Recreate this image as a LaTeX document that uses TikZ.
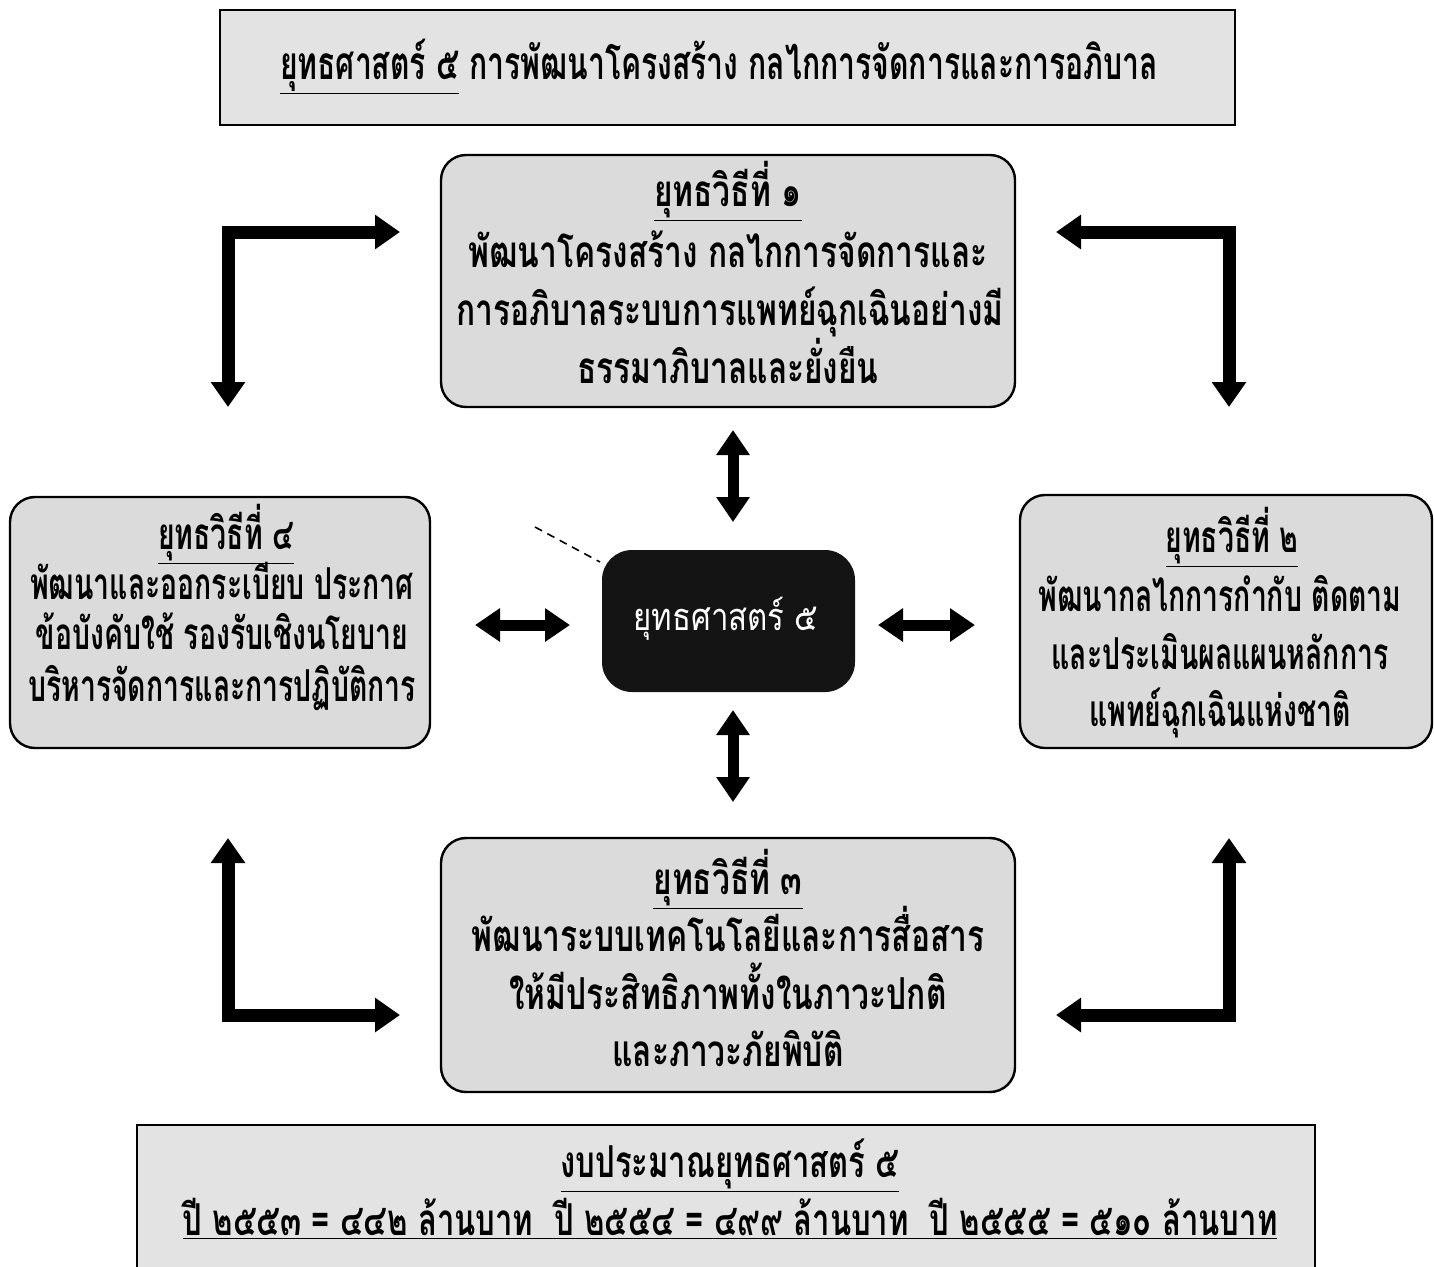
\documentclass[tikz,border=0pt]{standalone}
\usepackage{fontspec}
\usetikzlibrary{arrows.meta}
\newfontfamily\thaicond[Script=Thai,FakeStretch=0.72]{Loma}
\newfontfamily\thaiside[Script=Thai,FakeStretch=0.645]{Loma}
\newfontfamily\thaibudget[Script=Thai,FakeStretch=0.705]{Loma}
\newfontfamily\thaititle[Script=Thai,FakeStretch=0.655]{Loma}
\newfontfamily\thaireg[Script=Thai,FakeStretch=0.82]{Loma}
\begin{document}
\begin{tikzpicture}[x=0.5pt,y=-0.5pt,
  panel/.style={draw=black,line width=1.2pt,rounded corners=12.5pt,fill=black!14,inner sep=0pt},
  banner/.style={draw=black,line width=1.2pt,fill=black!11,inner sep=0pt},
  hub/.style={fill=black!92,rounded corners=15pt,inner sep=0pt},
  txt/.style={anchor=base,inner sep=0pt,font=\thaicond\bfseries\fontsize{22pt}{26pt}\selectfont},
  sidetxt/.style={anchor=base,inner sep=0pt,font=\thaiside\bfseries\fontsize{22pt}{26pt}\selectfont},
  budtxt/.style={anchor=base,inner sep=0pt,font=\thaibudget\bfseries\fontsize{22pt}{26pt}\selectfont},
  titletxt/.style={anchor=base,inner sep=0pt,font=\thaititle\bfseries\fontsize{23pt}{27pt}\selectfont},
  hubtxt/.style={anchor=base,inner sep=0pt,text=white,font=\thaireg\fontsize{19pt}{23pt}\selectfont},
  fat/.style={line width=6.5pt,line join=miter,
    {Triangle[length=12.5pt,width=16.5pt]}-{Triangle[length=12.5pt,width=16.5pt]}},
  link/.style={line width=5.5pt,
    {Triangle[length=12.5pt,width=16pt]}-{Triangle[length=12.5pt,width=16pt]}}]
\useasboundingbox (0,0) rectangle (1434,1266);
\clip (0,0) rectangle (1434,1266);

% heading banner
\node[banner,minimum width=507.5pt,minimum height=57.5pt] (head) at (727.5,67.5) {};
\node[titletxt] (headtxt) at (719,79) {\underline{ยุทธศาสตร์ ๕} การพัฒนาโครงสร้าง กลไกการจัดการและการอภิบาล};

% strategy panels
\node[panel,minimum width=287pt,minimum height=126pt] (s1) at (728,281) {};
\node[panel,minimum width=206pt,minimum height=126.5pt] (s2) at (1226,621.5) {};
\node[panel,minimum width=287pt,minimum height=127pt] (s3) at (728,965) {};
\node[panel,minimum width=210pt,minimum height=125.5pt] (s4) at (220,622.5) {};

% hub
\node[hub,minimum width=126.5pt,minimum height=71pt] (hub) at (728.5,621) {};
\node[hubtxt] (hubtxt) at (726,630) {ยุทธศาสตร์ ๕};

% panel texts
\node[txt] (s1a) at (728,206) {\underline{ยุทธวิธีที่ ๑}};
\node[txt] (s1b) at (728,267) {พัฒนาโครงสร้าง กลไกการจัดการและ};
\node[txt] (s1c) at (730,325) {การอภิบาลระบบการแพทย์ฉุกเฉินอย่างมี};
\node[txt] (s1d) at (728,383) {ธรรมาภิบาลและยั่งยืน};

\node[sidetxt] (s2a) at (1232,552) {\underline{ยุทธวิธีที่ ๒}};
\node[sidetxt] (s2b) at (1220,611) {พัฒนากลไกการกำกับ ติดตาม};
\node[sidetxt] (s2c) at (1220,669) {และประเมินผลแผนหลักการ};
\node[sidetxt] (s2d) at (1220,726) {แพทย์ฉุกเฉินแห่งชาติ};

\node[txt] (s3a) at (728,894) {\underline{ยุทธวิธีที่ ๓}};
\node[txt] (s3b) at (728,951) {พัฒนาระบบเทคโนโลยีและการสื่อสาร};
\node[txt] (s3c) at (728,1009) {ให้มีประสิทธิภาพทั้งในภาวะปกติ};
\node[txt] (s3d) at (728,1066) {และภาวะภัยพิบัติ};

\node[sidetxt] (s4a) at (226,549) {\underline{ยุทธวิธีที่ ๔}};
\node[sidetxt] (s4b) at (222,599) {พัฒนาและออกระเบียบ ประกาศ};
\node[sidetxt] (s4c) at (222,649) {ข้อบังคับใช้ รองรับเชิงนโยบาย};
\node[sidetxt] (s4d) at (222,701) {บริหารจัดการและการปฏิบัติการ};

% budget banner
\node[banner,minimum width=589pt,minimum height=80pt] (budget) at (726,1205) {};
\node[budtxt] (bud1) at (730,1177) {\underline{งบประมาณยุทธศาสตร์ ๕}};
\node[budtxt] (bud2) at (730,1235) {\underline{ปี ๒๕๕๓ = ๔๔๒ ล้านบาท\ \ ปี ๒๕๕๔ = ๔๙๙ ล้านบาท\ \ ปี ๒๕๕๕ = ๕๑๐ ล้านบาท}};

% two-way links between hub and panels
\coordinate (upA) at (733,430);  \coordinate (upB) at (733,522);
\coordinate (dnA) at (733,710);  \coordinate (dnB) at (733,802);
\coordinate (lfA) at (475,625);  \coordinate (lfB) at (570,625);
\coordinate (rtA) at (878,625);  \coordinate (rtB) at (975,625);
\draw[link] (upA) -- (upB);
\draw[link] (dnA) -- (dnB);
\draw[link] (lfA) -- (lfB);
\draw[link] (rtA) -- (rtB);

% corner arrows around the panels
\coordinate (tlA) at (228,407);  \coordinate (tlB) at (400,232);
\coordinate (trA) at (1056,232); \coordinate (trB) at (1229,407);
\coordinate (blA) at (228,838);  \coordinate (blB) at (400,1015);
\coordinate (brA) at (1056,1015);\coordinate (brB) at (1229,838);
\draw[fat] (tlA) |- (tlB);
\draw[fat] (trA) -| (trB);
\draw[fat] (blA) |- (blB);
\draw[fat] (brA) -| (brB);

% short dashed stroke at the hub corner
\coordinate (dsA) at (535,527); \coordinate (dsB) at (600,562);
\draw[dashed,line width=0.8pt,dash pattern=on 4pt off 3pt] (dsA) -- (dsB);
\end{tikzpicture}
\end{document}
